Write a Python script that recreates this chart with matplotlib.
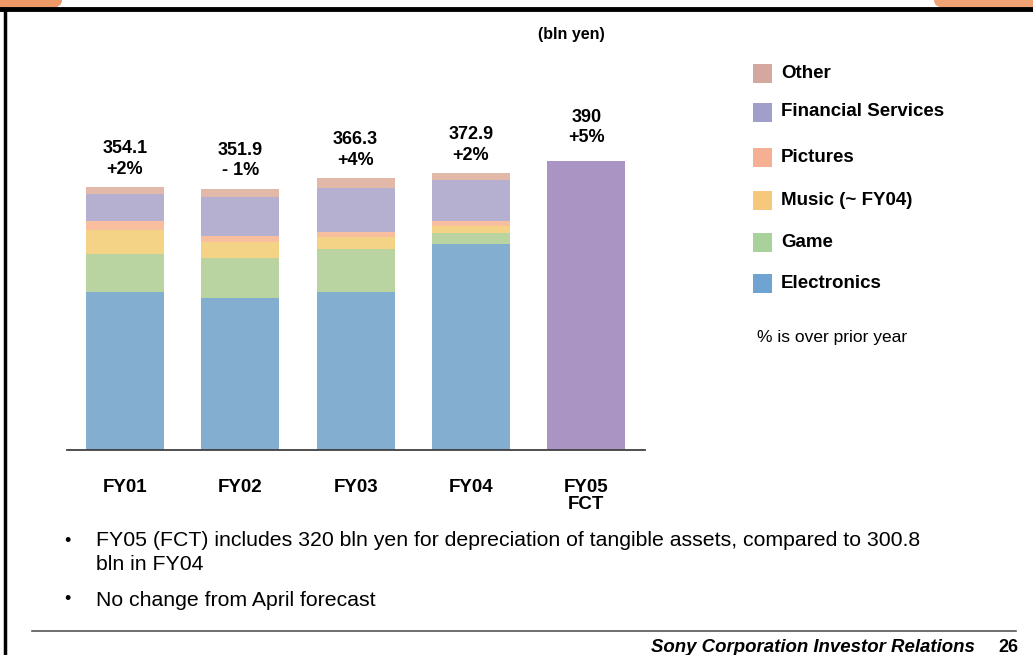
import matplotlib
matplotlib.use('Agg')
import matplotlib.pyplot as plt
from matplotlib.patches import Rectangle, FancyBboxPatch
from matplotlib.lines import Line2D
import numpy as np

plt.rcParams['font.family'] = ['Liberation Sans', 'DejaVu Sans']

# data (bln yen)
years = ['FY01', 'FY02', 'FY03', 'FY04']
electronics = [213.4, 205.1, 212.4, 278.0]
game = [50.2, 54.3, 58.6, 14.9]
music = [33.5, 20.4, 16.3, 9.5]
pictures = [10.9, 8.2, 6.8, 6.8]
financial = [36.6, 53.0, 58.6, 54.2]
other = [9.5, 10.9, 13.6, 9.5]
fct_label = 'FY05\nFCT'
fct_value = 390
totals = ['354.1', '351.9', '366.3', '372.9', '390']
growth = ['+2%', '- 1%', '+4%', '+2%', '+5%']

segments = [electronics, game, music, pictures, financial, other]
seg_names = ['Electronics', 'Game', 'Music (~ FY04)', 'Pictures', 'Financial Services', 'Other']
bar_colors = ['#84AED0', '#B9D4A0', '#F4D386', '#F8BE9D', '#B5B0CF', '#E2B8A8']
legend_colors = ['#6FA3D2', '#A8D29A', '#F6C87C', '#F5B093', '#A09FCB', '#D4A89F']
fct_color = '#A994C4'

W, H = 1033, 655
fig = plt.figure(figsize=(W / 100, H / 100), dpi=100)

def fx(px):
    return px / W

def fy(py):
    return 1 - py / H

# slide frame: orange header corners, black top rule, left border
fig.patches.append(FancyBboxPatch((fx(-30), fy(8)), fx(92), fy(0) - fy(8) + 0.02,
                                  boxstyle='round,pad=0,rounding_size=0.012',
                                  transform=fig.transFigure, facecolor='#EE9966', edgecolor='none'))
fig.patches.append(FancyBboxPatch((fx(934), fy(8)), fx(130), fy(0) - fy(8) + 0.02,
                                  boxstyle='round,pad=0,rounding_size=0.012',
                                  transform=fig.transFigure, facecolor='#F0A274', edgecolor='none'))
fig.lines.append(Line2D([0, 1], [fy(9), fy(9)], transform=fig.transFigure, color='black', lw=3.5))
fig.lines.append(Line2D([fx(5), fx(5)], [fy(9), 0], transform=fig.transFigure, color='black', lw=2.5))

# chart axes: baseline at y=450px, x from 67 to 645px
px_per_unit = 0.742
ax_top_px = 100
ax = fig.add_axes([fx(67), fy(450), fx(645 - 67), (450 - ax_top_px) / H])
ax.set_ylim(0, (450 - ax_top_px) / px_per_unit)
spacing = 115.3
ax.set_xlim((67 - 125) / spacing, (645 - 125) / spacing)

x = np.arange(len(years))
bottom = np.zeros(len(years))
for vals, c in zip(segments, bar_colors):
    ax.bar(x, vals, bottom=bottom, width=0.677, color=c, edgecolor='none', zorder=2)
    bottom += np.array(vals)
ax.bar([len(years)], [fct_value], width=0.677, color=fct_color, edgecolor='none', zorder=2)

tops = list(bottom) + [fct_value]
for i, (t, lab, g) in enumerate(zip(tops, totals, growth)):
    off = 20 if i == len(years) else 13
    ax.text(i, t + off, f'{lab}\n{g}', ha='center', va='bottom', fontsize=13,
            fontweight='bold', linespacing=1.25)

for s in ['top', 'right', 'left']:
    ax.spines[s].set_visible(False)
ax.spines['bottom'].set_color('#404040')
ax.spines['bottom'].set_linewidth(1.3)
ax.spines['bottom'].set_zorder(3)
ax.set_yticks([])
ax.set_xticks(list(x) + [len(years)])
ax.set_xticklabels(years + [fct_label], fontsize=13.5, fontweight='bold', linespacing=0.95)
ax.tick_params(axis='x', length=0, pad=21)

fig.text(fx(571), fy(35), '(bln yen)', ha='center', va='center', fontsize=11.5, fontweight='bold')

# legend
leg_rows = [73, 112, 157, 200, 242, 283]
for ypx, name, c in zip(leg_rows, seg_names[::-1], legend_colors[::-1]):
    fig.patches.append(Rectangle((fx(753), fy(ypx + 9.5)), fx(19), 19 / H,
                                 transform=fig.transFigure, facecolor=c, edgecolor='none'))
    fig.text(fx(781), fy(ypx), name, ha='left', va='center', fontsize=13.5, fontweight='bold')
fig.text(fx(757), fy(338), '% is over prior year', ha='left', va='center', fontsize=12.5)

# bullet notes
fig.text(fx(64), fy(541), '•', ha='left', va='center', fontsize=13)
fig.text(fx(96), fy(541), 'FY05 (FCT) includes 320 bln yen for depreciation of tangible assets, compared to 300.8',
         ha='left', va='center', fontsize=15.3)
fig.text(fx(96), fy(564), 'bln in FY04', ha='left', va='center', fontsize=15.3)
fig.text(fx(64), fy(600), '•', ha='left', va='center', fontsize=13)
fig.text(fx(96), fy(600), 'No change from April forecast', ha='left', va='center', fontsize=15.3)

# footer
fig.lines.append(Line2D([fx(32), fx(1016)], [fy(631), fy(631)], transform=fig.transFigure,
                        color='#555555', lw=1.2))
fig.text(fx(975), fy(648), 'Sony Corporation Investor Relations', ha='right', va='center',
         fontsize=13.4, fontweight='bold', fontstyle='italic')
fig.text(fx(1018), fy(648), '26', ha='right', va='center', fontsize=13, fontweight='bold')

fig.savefig('out.png', dpi=100)
